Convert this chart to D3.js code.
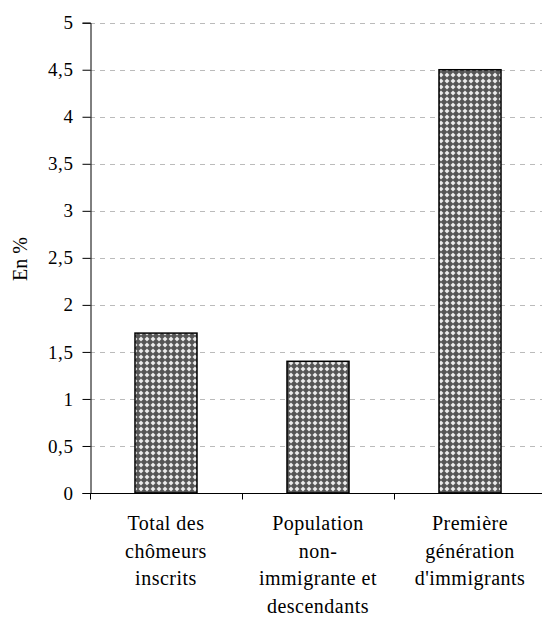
<!DOCTYPE html>
<html>
<head>
<meta charset="utf-8">
<script src="https://cdn.jsdelivr.net/npm/d3@7"></script>
<style>
  body { margin: 0; background: #fff; overflow: hidden; }
</style>
</head>
<body>
<svg id="chart" width="542" height="618"></svg>
<script>
const categories = [
  ['Total des', 'chômeurs', 'inscrits'],
  ['Population', 'non-', 'immigrante et', 'descendants'],
  ['Première', 'génération', "d'immigrants"]
];
const values = [1.7, 1.4, 4.5];
const yTicks = [0, 0.5, 1, 1.5, 2, 2.5, 3, 3.5, 4, 4.5, 5];
const yTitle = 'En %';

const serif = 'Liberation Serif, Times New Roman, serif';
const svg = d3.select('#chart').style('font-family', serif);
const plotLeft = 90, plotRight = 546, plotTop = 22.7, plotBottom = 493;

let x = d3.scaleBand()
  .domain(d3.range(categories.length))
  .range([plotLeft, plotRight])
  .paddingInner(0.592)
  .paddingOuter(0.296);
let band = d3.scaleBand().domain(d3.range(categories.length)).range([plotLeft, plotRight]);
let y = d3.scaleLinear().domain([0, 5]).range([plotBottom, plotTop]);

// hatch pattern
let pat = svg.append('defs').append('pattern')
  .attr('id', 'hatch')
  .attr('patternUnits', 'userSpaceOnUse')
  .attr('width', 6).attr('height', 6);
pat.append('rect').attr('width', 6).attr('height', 6).attr('fill', '#555');
pat.append('path').attr('d', 'M3 0.5 L5.5 3 L3 5.5 L0.5 3 Z').attr('fill', '#e6e6e6');
pat.append('rect').attr('x', 2.5).attr('y', 2.5).attr('width', 1).attr('height', 1).attr('fill', '#fff');

// gridlines
svg.append('g')
  .selectAll('line')
  .data(yTicks.filter(d => d > 0))
  .join('line')
  .attr('x1', plotLeft).attr('x2', plotRight)
  .attr('y1', d => Math.round(y(d)) + 0.5).attr('y2', d => Math.round(y(d)) + 0.5)
  .attr('stroke', '#bbb')
  .attr('stroke-dasharray', '5,5');

// bars
svg.append('g')
  .selectAll('rect')
  .data(values)
  .join('rect')
  .attr('x', (d, i) => x(i))
  .attr('y', d => y(d))
  .attr('width', x.bandwidth())
  .attr('height', d => y(0) - y(d))
  .attr('fill', 'url(#hatch)')
  .attr('stroke', '#000')
  .attr('stroke-width', 1.5);

// y axis
let yAxis = svg.append('g')
  .attr('transform', `translate(${plotLeft + 0.5},0)`)
  .call(d3.axisLeft(y).tickValues(yTicks).tickSize(8).tickPadding(9)
    .tickFormat(d => String(d).replace('.', ',')));
yAxis.attr('font-family', null);
yAxis.select('.domain').attr('stroke', '#000');
yAxis.selectAll('line').attr('stroke', '#000');
yAxis.selectAll('text')
  .attr('font-size', 19)
  .attr('letter-spacing', 0.6)
  .attr('fill', '#000')
  .style('font-family', serif);

// x axis
let xAxis = svg.append('g')
  .attr('transform', `translate(0,${plotBottom + 0.5})`);
xAxis.append('line').attr('x1', plotLeft).attr('x2', plotRight).attr('stroke', '#000');
xAxis.selectAll('.tk')
  .data(d3.range(categories.length + 1))
  .join('line')
  .attr('class', 'tk')
  .attr('x1', d => plotLeft + d * band.bandwidth() + 0.5)
  .attr('x2', d => plotLeft + d * band.bandwidth() + 0.5)
  .attr('y1', 0).attr('y2', 6)
  .attr('stroke', '#000');

// category labels
svg.append('g')
  .selectAll('text')
  .data(categories)
  .join('text')
  .attr('text-anchor', 'middle')
  .attr('font-size', 20)
  .attr('letter-spacing', 0.5)
  .attr('fill', '#000')
  .style('font-family', serif)
  .each(function(lines, i) {
    d3.select(this).selectAll('tspan')
      .data(lines)
      .join('tspan')
      .attr('x', band(i) + band.bandwidth() / 2)
      .attr('y', (d, j) => 530 + j * 27.7)
      .text(d => d);
  });

// y title
svg.append('text')
  .attr('transform', 'translate(27,259) rotate(-90)')
  .attr('text-anchor', 'middle')
  .attr('font-size', 20)
  .attr('fill', '#000')
  .style('font-family', serif)
  .text(yTitle);
</script>
</body>
</html>
